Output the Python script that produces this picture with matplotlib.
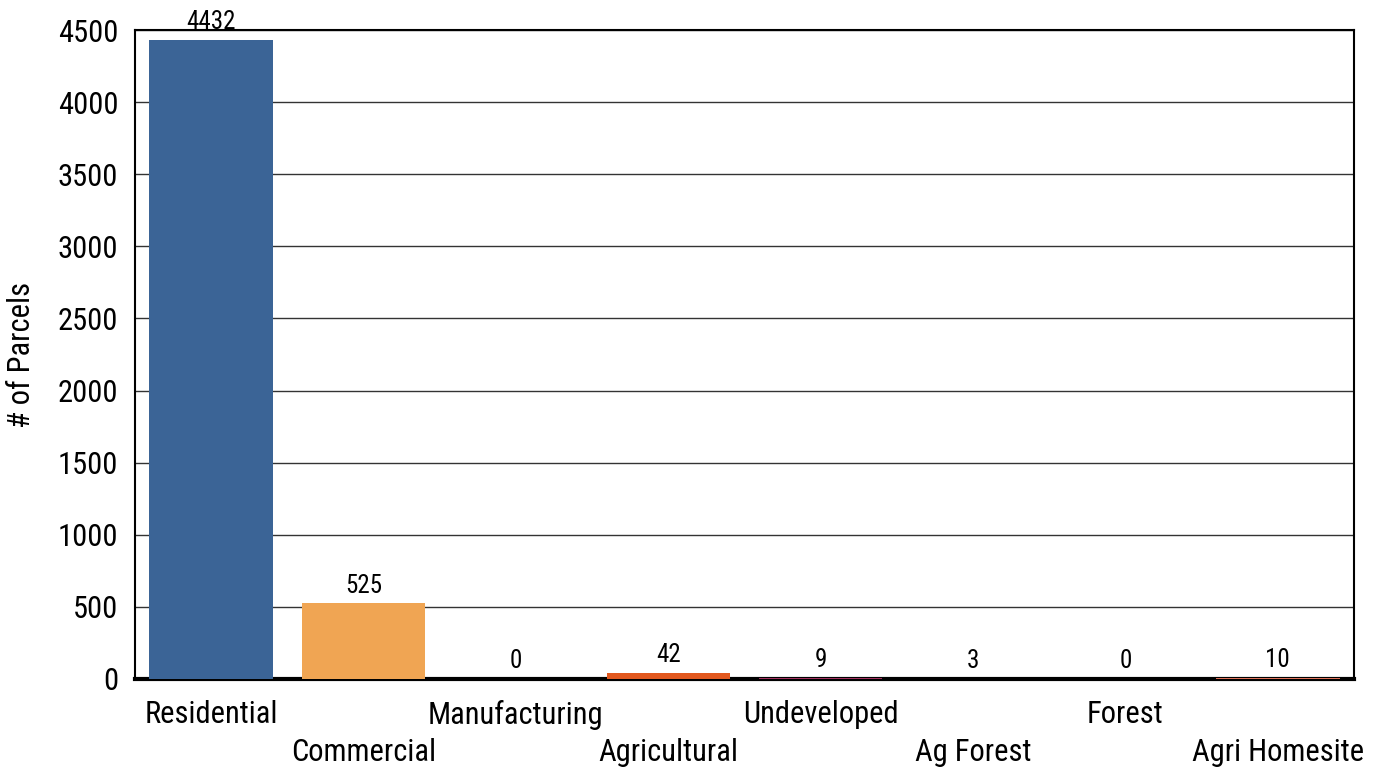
import matplotlib.pyplot as plt
import numpy as np

categories = ['Residential', 'Commercial', 'Manufacturing', 'Agricultural',
              'Undeveloped', 'Ag Forest', 'Forest', 'Agri Homesite']
parcels = [4432, 525, 0, 42, 9, 3, 0, 10]
colors = ['#3b6496', '#f0a553', '#4a4a4a', '#e2581e',
          '#a3305f', '#f3be4a', '#555555', '#e0735a']

plt.rcParams['font.family'] = ['Roboto Condensed', 'Liberation Sans', 'DejaVu Sans']

fig = plt.figure(figsize=(13.82, 7.73), dpi=100)
ax = fig.add_axes([135 / 1382, 1 - 679 / 773, (1354 - 135) / 1382, (679 - 30) / 773])

x = np.arange(len(categories))
# bars sit on top of the baseline
ax.bar(x, parcels, width=0.81, color=colors, zorder=4)
for xi, v in zip(x, parcels):
    ax.text(xi, v + 40, str(v), ha='center', va='bottom', fontsize=18)

ax.set_xlim(-0.5, len(categories) - 0.5)
ax.set_ylim(0, 4500)
ax.set_yticks(range(0, 4501, 500))
ax.tick_params(axis='y', labelsize=22, length=0, pad=12)
ax.tick_params(axis='x', length=0)
ax.set_xticks(x)
ax.set_xticklabels([])
# stagger the category names on two rows
for xi, name in zip(x, categories):
    y = -0.033 if xi % 2 == 0 else -0.091
    ax.text(xi, y, name, transform=ax.get_xaxis_transform(), ha='center', va='top', fontsize=22)

ax.set_ylabel('# of Parcels', fontsize=22, labelpad=16)
ax.grid(axis='y', color='#333333', linewidth=1, zorder=0)
ax.set_axisbelow(True)
for s in ['left', 'top', 'right']:
    ax.spines[s].set_color('black')
    ax.spines[s].set_linewidth(1.5)
ax.spines['bottom'].set_linewidth(3)
ax.spines['bottom'].set_zorder(3)

fig.savefig('out.png', dpi=100)
